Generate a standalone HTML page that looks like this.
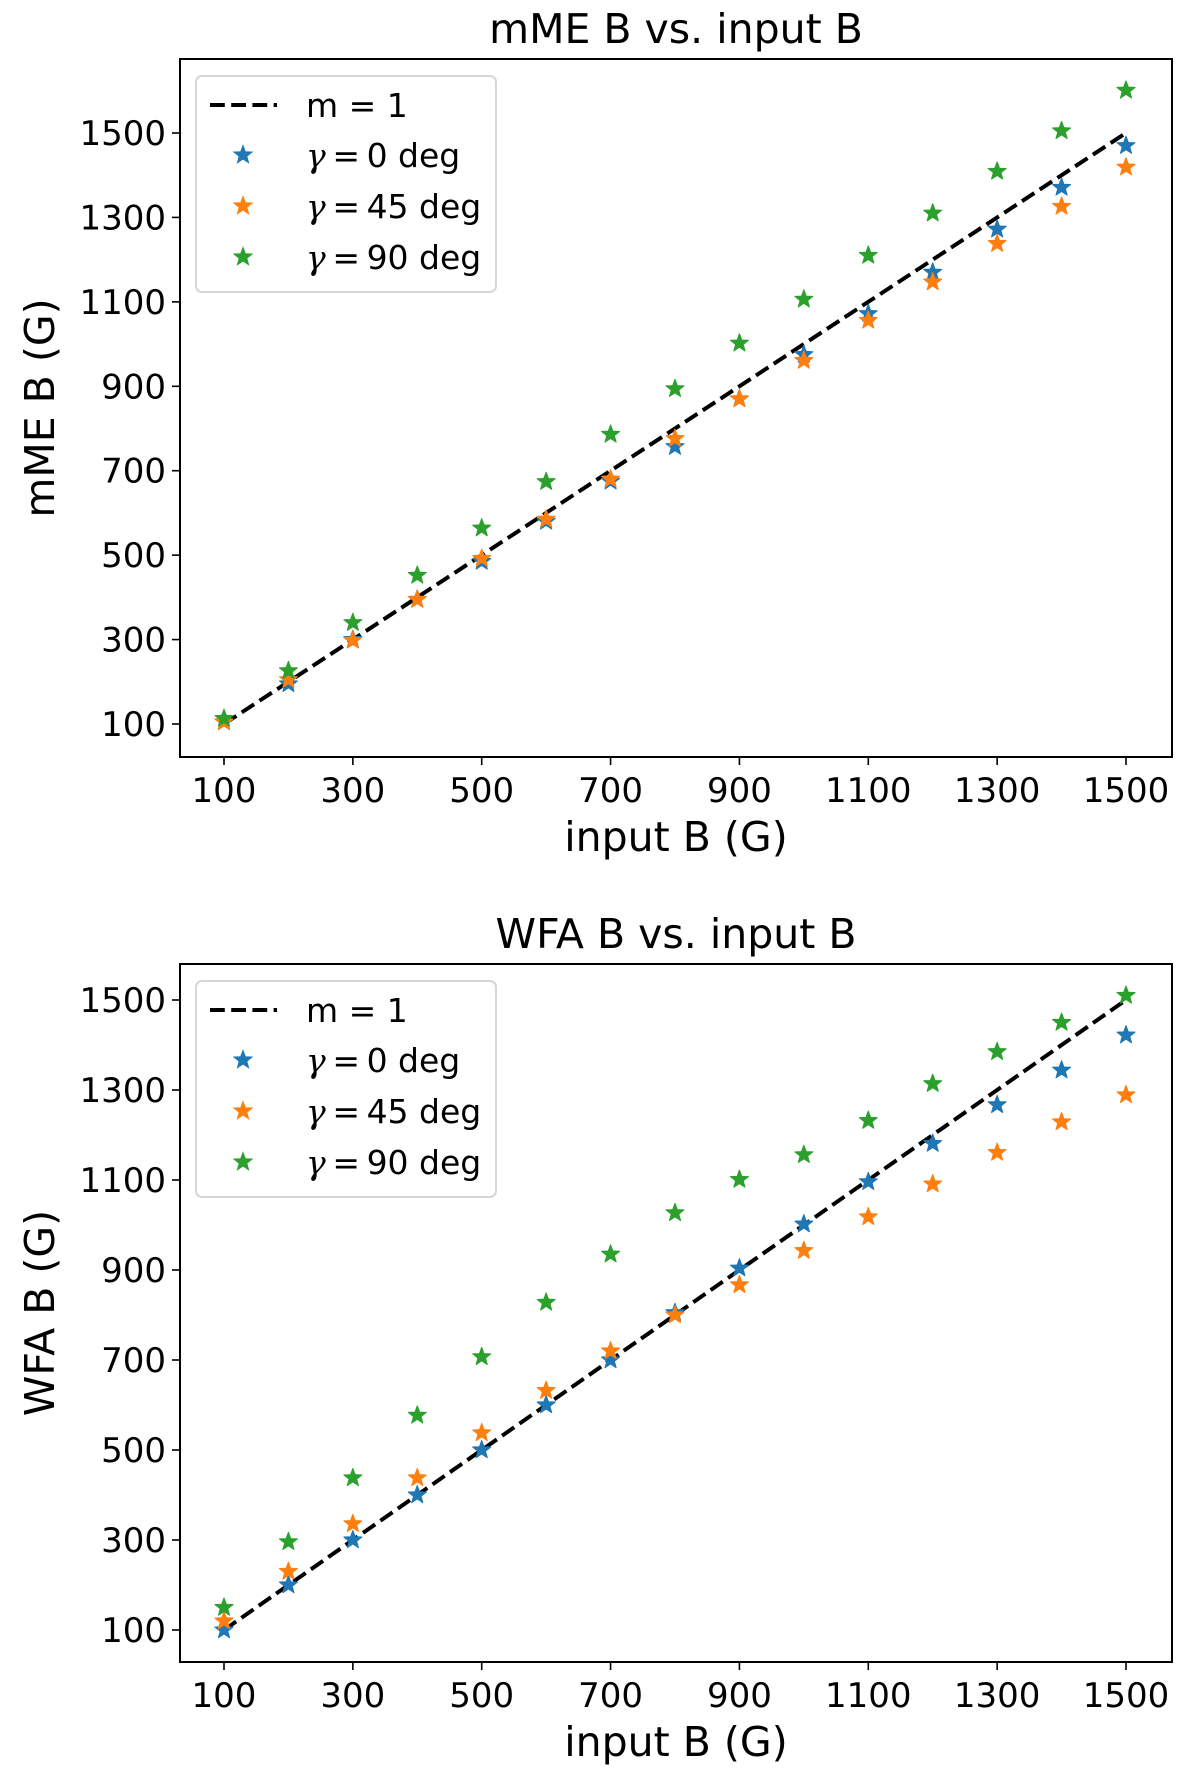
<!DOCTYPE html>
<html><head><meta charset="utf-8">
<style>
html,body{margin:0;padding:0;background:#fff;}
svg{display:block;font-family:"DejaVu Sans","Liberation Sans",sans-serif;}
</style></head>
<body>
<svg id="fig" width="1200" height="1773" viewBox="0 0 1200 1773" xmlns="http://www.w3.org/2000/svg"></svg>
<script>
const inputB = [100,200,300,400,500,600,700,800,900,1000,1100,1200,1300,1400,1500];
const xTicks = [100,300,500,700,900,1100,1300,1500];
const yTicks = [100,300,500,700,900,1100,1300,1500];
const mmeG0  = [105,195,300,395,485,580,675,757,870,975,1072,1170,1272,1371,1470];
const mmeG45 = [105,205,298,395,492,585,680,776,870,961,1056,1147,1238,1326,1419];
const mmeG90 = [113,226,340,452,564,674,786,894,1002,1106,1210,1310,1409,1505,1601];
const wfaG0  = [100,200,300,400,500,600,700,805,904,1002,1096,1181,1267,1344,1422];
const wfaG45 = [120,230,336,438,538,632,720,800,867,943,1018,1091,1161,1229,1289];
const wfaG90 = [150,296,438,577,707,828,935,1027,1101,1156,1232,1314,1385,1450,1510];
const seriesLabels = ["0","45","90"];
const colors = ["#1f77b4","#ff7f0e","#2ca02c"];

const NS = "http://www.w3.org/2000/svg";
const fig = document.getElementById('fig');
function mk(tag, attrs, parent){
  const e = document.createElementNS(NS, tag);
  for (const k in attrs) e.setAttribute(k, attrs[k]);
  (parent||fig).appendChild(e);
  return e;
}
function starPath(cx, cy, r){
  let d = "";
  for (let i=0;i<10;i++){
    const a = -Math.PI/2 + i*Math.PI/5;
    const rr = (i%2===0) ? r : r*0.42;
    d += (i===0?"M":"L") + (cx+rr*Math.cos(a)).toFixed(2) + "," + (cy+rr*Math.sin(a)).toFixed(2);
  }
  return d + "Z";
}

function drawPanel(p){
  const g = mk('g', {});
  
  
  const L=180, R=1172, T=p.top, B=p.bottom;
  const xs = v => 224 + (v-100)*(1126-224)/1400;
  const ys = v => p.y100 + (v-100)*(p.y1500-p.y100)/1400;

  const t = mk('text', {x:(L+R)/2, y:T-16, 'font-size':41, 'text-anchor':'middle', fill:'#000'}, g);
  t.textContent = p.title;
  
  

  xTicks.forEach(v=>{
    const x = xs(v);
    const tk = mk('line', {x1:x, x2:x, y1:B, y2:B+8, stroke:'#000', 'stroke-width':1.6}, g);
    
    
    const tl = mk('text', {x:x, y:B+45, 'font-size':34, 'text-anchor':'middle', fill:'#000'}, g);
    tl.textContent = v;
    
    
  });
  yTicks.forEach(v=>{
    const y = ys(v);
    const tk = mk('line', {x1:L-8, x2:L, y1:y, y2:y, stroke:'#000', 'stroke-width':1.6}, g);
    
    
    const tl = mk('text', {x:L-14, y:y+12, 'font-size':34, 'text-anchor':'end', fill:'#000'}, g);
    tl.textContent = v;
    
    
  });

  const xl = mk('text', {x:(L+R)/2, y:B+94, 'font-size':41, 'text-anchor':'middle', fill:'#000'}, g);
  xl.textContent = 'input B (G)';
  
  
  const yc = (T+B)/2;
  const yl = mk('text', {x:0, y:0, 'font-size':41, 'text-anchor':'middle', fill:'#000', transform:`translate(54,${yc}) rotate(-90)`}, g);
  yl.textContent = p.ylabel;
  
  

  const ln = mk('line', {x1:xs(inputB[0]), y1:ys(inputB[0]), x2:xs(inputB[inputB.length-1]), y2:ys(inputB[inputB.length-1]), stroke:'#000', 'stroke-width':4, 'stroke-dasharray':'14.8 6.4'}, g);
  
  

  p.series.forEach((arr, si)=>{
    arr.forEach((v, i)=>{
      const s = mk('path', {d:starPath(xs(inputB[i]), ys(v), 9.5), fill:colors[si], stroke:colors[si], 'stroke-width':1, 'stroke-linejoin':'round'}, g);
      
      
    });
  });

  const fr = mk('rect', {x:L, y:T, width:R-L, height:B-T, fill:'none', stroke:'#000', 'stroke-width':2}, g);
  
  

  const lg = mk('g', {}, g);
  
  
  const lt = T + 17;
  mk('rect', {x:196, y:lt, width:300, height:216, rx:6, fill:'#fff', 'fill-opacity':0.8, stroke:'#d6d6d6', 'stroke-width':2}, lg);
  const rows = [lt+29, lt+79, lt+130, lt+181];
  const e0 = mk('line', {x1:210, x2:277, y1:rows[0], y2:rows[0], stroke:'#000', 'stroke-width':4, 'stroke-dasharray':'14.8 6.4'}, lg);
  
  
  const tx0 = mk('text', {x:306, y:rows[0]+12, 'font-size':33, fill:'#000'}, lg);
  tx0.textContent = 'm = 1';
  
  
  seriesLabels.forEach((lab, si)=>{
    const y = rows[si+1];
    const m = mk('path', {d:starPath(243, y, 9.5), fill:colors[si], stroke:colors[si], 'stroke-width':1}, lg);
    
    
    const tx = mk('text', {x:306, y:y+12, 'font-size':33, fill:'#000'}, lg);
    tx.innerHTML = '<tspan font-style="italic" font-family="DejaVu Serif, Liberation Serif, serif">γ</tspan>\u2009=\u2009' + lab + ' deg';
    
    
  });
}

drawPanel({name:'mme-panel', title:'mME B vs. input B', ylabel:'mME B (G)', top:59, bottom:757, y100:724, y1500:133, series:[mmeG0, mmeG45, mmeG90]});
drawPanel({name:'wfa-panel', title:'WFA B vs. input B', ylabel:'WFA B (G)', top:964, bottom:1662, y100:1630, y1500:1000, series:[wfaG0, wfaG45, wfaG90]});
</script>
</body></html>
